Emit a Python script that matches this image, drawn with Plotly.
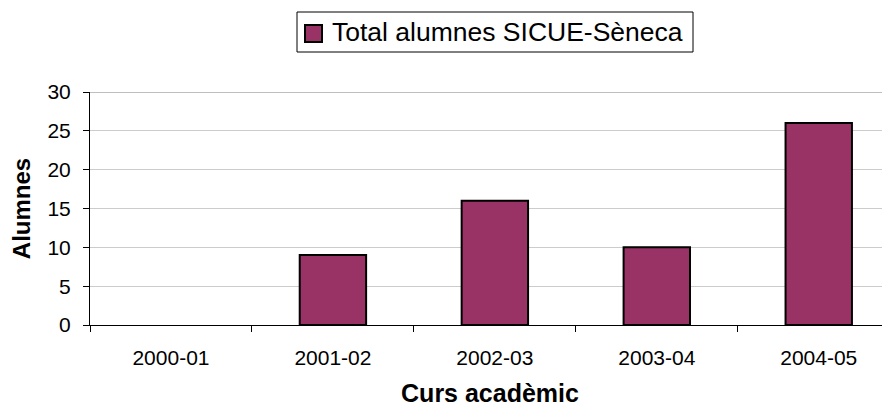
import plotly.graph_objects as go

categories = ["2000-01", "2001-02", "2002-03", "2003-04", "2004-05"]
values = [0, 9, 16, 10, 26]
series_name = "Total alumnes SICUE-Sèneca"

font = "Liberation Sans, Arial, sans-serif"
bar_color = "#993366"

# page has an 8px body margin, so figure is 882x400 and sits at (8, 8)
W, H = 882, 400
ML, MR, MT, MB = 82, 0, 84, 83
PW, PH = W - ML - MR, H - MT - MB


def px(fx):
    return (fx - ML) / PW


def py(fy):
    return (H - MB - fy) / PH


fig = go.Figure()
fig.add_trace(go.Bar(
    x=categories, y=values, name=series_name,
    marker=dict(color=bar_color,
                line=dict(color="black", width=[0 if v == 0 else 2 for v in values])),
    width=0.41, showlegend=False,
))

fig.update_layout(
    width=W, height=H,
    margin=dict(l=ML, r=MR, t=MT, b=MB, autoexpand=False),
    paper_bgcolor="white", plot_bgcolor="white",
    font=dict(family=font, size=20, color="black"),
    showlegend=False,
)
fig.update_xaxes(
    type="category", range=[-0.5, 4.44],
    showline=True, linecolor="black", linewidth=1,
    ticks="outside", tickson="boundaries", ticklen=6, tickcolor="black",
    showgrid=False, automargin=False,
    title=dict(text="<b>Curs acadèmic</b>", font=dict(size=25, family=font), standoff=16),
    tickfont=dict(size=21), ticklabelstandoff=14,
)
fig.update_yaxes(
    range=[0, 30], dtick=5,
    showline=True, linecolor="black", linewidth=1,
    ticks="outside", ticklen=6, tickcolor="black",
    showgrid=True, gridcolor="#cccccc", gridwidth=1,
    zeroline=False, automargin=False,
    title=dict(text="<b>Alumnes</b>", font=dict(size=24, family=font), standoff=19),
    tickfont=dict(size=21), ticklabelstandoff=8,
)
fig.add_shape(type="line", xref="paper", yref="y", x0=0, x1=1, y0=30, y1=30,
              line=dict(color="#808080", width=1), layer="below")

# legend (box, swatch, label)
fig.add_shape(type="rect", xref="paper", yref="paper",
              x0=px(289), x1=px(685), y0=py(44), y1=py(4),
              line=dict(color="black", width=1), fillcolor="white")
fig.add_shape(type="rect", xref="paper", yref="paper",
              x0=px(297), x1=px(314), y0=py(34), y1=py(17),
              line=dict(color="black", width=2), fillcolor=bar_color)
fig.add_annotation(text=series_name, xref="paper", yref="paper",
                   x=px(322), y=py(24), xanchor="left", yanchor="middle",
                   showarrow=False, font=dict(size=26.5, family=font, color="black"))

fig.write_html("out.html")
